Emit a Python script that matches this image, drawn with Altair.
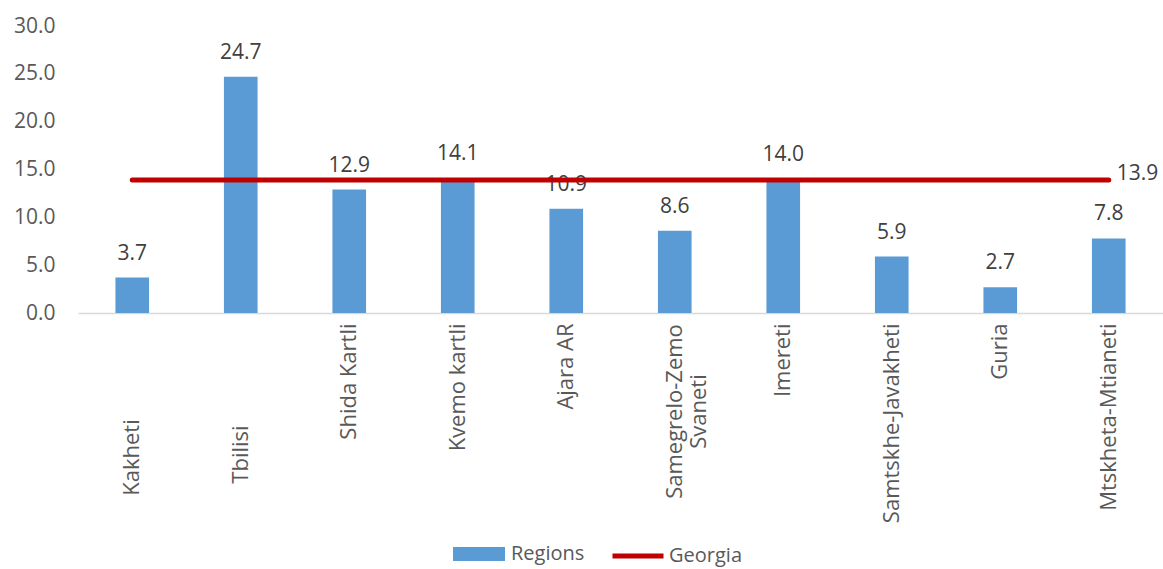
import altair as alt
import pandas as pd

regions = ["Kakheti", "Tbilisi", "Shida Kartli", "Kvemo kartli", "Ajara AR",
           "Samegrelo-Zemo Svaneti", "Imereti", "Samtskhe-Javakheti", "Guria",
           "Mtskheta-Mtianeti"]
region_values = [3.7, 24.7, 12.9, 14.1, 10.9, 8.6, 14.0, 5.9, 2.7, 7.8]
georgia_values = [13.9, 13.9, 13.9, 13.9, 13.9, 13.9, 13.9, 13.9, 13.9, 13.9]
y_ticks = [0, 5, 10, 15, 20, 25, 30]

df = pd.DataFrame({
    "region": regions,
    "value": region_values,
    "georgia": georgia_values,
    "s1": ["Regions"] * len(regions),
    "s2": ["Georgia"] * len(regions),
    "idx": list(range(len(regions))),
})

FONT = "Open Sans"
FS = 21
XFS = 22
LFS = 20

x_axis = alt.Axis(
    title=None, labelAngle=-90, ticks=False, tickSize=0,
    domainColor="#D9D9D9", domainWidth=1.5,
    labelFont=FONT, labelFontSize=XFS, labelColor="#595959",
    labelExpr="datum.value == 'Samegrelo-Zemo Svaneti' ? ['Samegrelo-Zemo', 'Svaneti'] : datum.label",
    labelAlign={"condition": [{"test": "indexof(['Kakheti','Tbilisi','Samegrelo-Zemo Svaneti'], datum.value) >= 0", "value": "center"}], "value": "right"},
    labelPadding={"condition": [
        {"test": "datum.value == 'Kakheti'", "value": 144},
        {"test": "datum.value == 'Tbilisi'", "value": 141},
        {"test": "datum.value == 'Samegrelo-Zemo Svaneti'", "value": 98}],
        "value": 10},
    labelLimit=400,
)

x = alt.X("region:N", sort=regions,
          scale=alt.Scale(paddingInner=0.69, paddingOuter=0.345),
          axis=x_axis)

y_axis = alt.Axis(title=None, values=y_ticks, format=".1f", grid=False,
                  domain=False, ticks=False, tickSize=0, labelPadding=23,
                  labelFont=FONT, labelFontSize=FS, labelColor="#595959")

base = alt.Chart(df)

bars = base.mark_bar(color="#5B9BD5").encode(
    x=x,
    y=alt.Y("value:Q", scale=alt.Scale(domain=[0, 30]), axis=y_axis),
    color=alt.Color("s1:N", scale=alt.Scale(domain=["Regions"], range=["#5B9BD5"]),
                    legend=alt.Legend(title=None, orient="none", legendX=375, legendY=502,
                                      symbolType="M-1,-0.27L1,-0.27L1,0.27L-1,0.27Z",
                                      symbolSize=2704, symbolStrokeWidth=0,
                                      labelFont=FONT, labelFontSize=LFS, labelColor="#595959",
                                      labelOffset=6)),
)

bar_labels = base.mark_text(font=FONT, fontSize=FS, color="#404040",
                            baseline="alphabetic", dy=-18).encode(
    x=alt.X("region:N", sort=regions),
    y=alt.Y("value:Q"),
    text=alt.Text("value:Q", format=".1f"),
)

line = base.mark_line(strokeWidth=5, strokeCap="round").encode(
    x=alt.X("region:N", sort=regions),
    y=alt.Y("georgia:Q"),
    stroke=alt.Stroke("s2:N", scale=alt.Scale(domain=["Georgia"], range=["#C00000"]),
                      legend=alt.Legend(title=None, orient="none", legendX=532, legendY=502,
                                        symbolType="stroke", symbolSize=2601,
                                        symbolStrokeWidth=5,
                                        labelFont=FONT, labelFontSize=LFS, labelColor="#595959",
                                        labelOffset=3)),
)

line_label = base.transform_filter(alt.datum.idx == len(regions) - 1).mark_text(
    font=FONT, fontSize=FS, color="#404040", align="left", baseline="middle",
    dx=8, dy=-6).encode(
    x=alt.X("region:N", sort=regions),
    y=alt.Y("georgia:Q"),
    text=alt.Text("georgia:Q", format=".1f"),
)

chart = alt.layer(bars, bar_labels, line, line_label).properties(
    width=1085, height=287,
    background="white",
    autosize=alt.AutoSizeParams(type="none"),
    padding={"left": 78, "top": 26, "right": 0, "bottom": 256},
).configure_view(stroke=None)

chart.save("out.html", embed_options={"renderer": "svg", "actions": False})
